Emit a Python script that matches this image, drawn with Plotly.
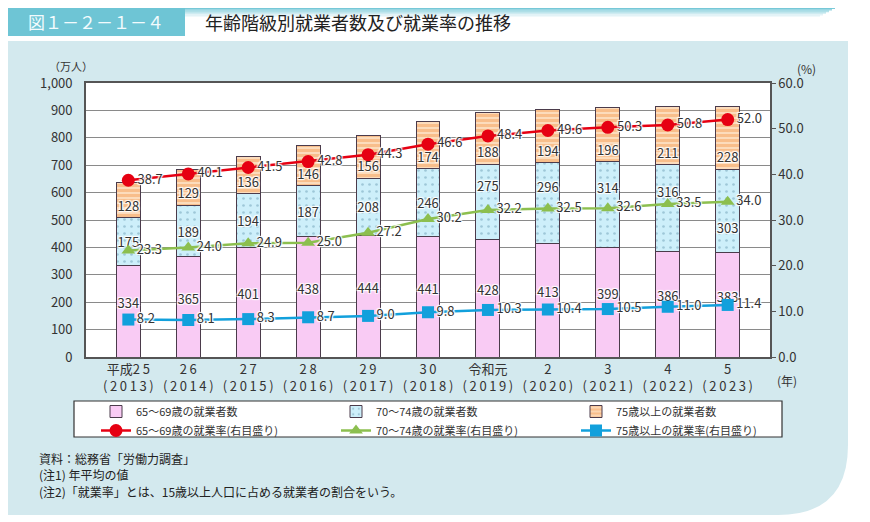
import plotly.graph_objects as go

# --- データ ---
ERA_LABELS = ["平成25", "26", "27", "28", "29", "30", "令和元", "2", "3", "4", "5"]
YEARS = [2013, 2014, 2015, 2016, 2017, 2018, 2019, 2020, 2021, 2022, 2023]

WORKERS_65_69 = [334, 365, 401, 438, 444, 441, 428, 413, 399, 386, 383]
WORKERS_70_74 = [175, 189, 194, 187, 208, 246, 275, 296, 314, 316, 303]
WORKERS_75_UP = [128, 129, 136, 146, 156, 174, 188, 194, 196, 211, 228]

RATE_65_69 = [38.7, 40.1, 41.5, 42.8, 44.3, 46.6, 48.4, 49.6, 50.3, 50.8, 52.0]
RATE_70_74 = [23.3, 24.0, 24.9, 25.0, 27.2, 30.2, 32.2, 32.5, 32.6, 33.5, 34.0]
RATE_75_UP = [8.2, 8.1, 8.3, 8.7, 9.0, 9.8, 10.3, 10.4, 10.5, 11.0, 11.4]

FONT = "Noto Sans CJK JP"
TXT = "#333333"
HALO = "1px 1px 1px white, -1px -1px 1px white, 1px -1px 1px white, -1px 1px 1px white"
THIN = "\u2009"
BLANK = "<br>\u00a0"

# ページの余白(body margin 8px)を考慮した寸法
OFF = 8
W, H = 870 - OFF, 522 - OFF
L, R, T, B = 86 - OFF, 100, 83 - OFF, 165
PW, PH = W - L - R, H - T - B


def px(x):
    # ページ上のピクセル位置 -> paper座標
    return (x - OFF - L) / PW


def py(y):
    return 1 - (y - OFF - T) / PH


def spaced(s):
    # 数字の間を少し空ける（元図の字間に合わせる）
    out = ""
    for i, ch in enumerate(s):
        if i > 0 and ch.isdigit() and s[i - 1].isdigit():
            out += THIN
        out += ch
    return out


cats = [f"{spaced(e)}<br>({THIN}{spaced(str(y))}{THIN})" for e, y in zip(ERA_LABELS, YEARS)]

# 70～74歳の棒ラベルは折れ線と重なるときだけ上下にずらす
labels_70_74 = []
for base, v, r in zip(WORKERS_65_69, WORKERS_70_74, RATE_70_74):
    diff = (base + v / 2) - r * 1000 / 60
    if -20 < diff < 30:
        labels_70_74.append(f"{v}{BLANK}{BLANK}")
    elif -45 < diff <= -20:
        labels_70_74.append(f"\u00a0<br>\u00a0<br>{v}")
    else:
        labels_70_74.append(str(v))

bar_specs = [
    ("65～69歳の就業者数", [f"{v}{BLANK}" for v in WORKERS_65_69], WORKERS_65_69,
     dict(color="#f9cbf4"), "middle"),
    ("70～74歳の就業者数", labels_70_74, WORKERS_70_74,
     dict(color="#cdeffa", pattern=dict(shape=".", fgcolor="#6f9fb5", bgcolor="#cdeffa", size=7, solidity=0.12)),
     "middle"),
    ("75歳以上の就業者数", [str(v) for v in WORKERS_75_UP], WORKERS_75_UP,
     dict(color="#f5a964", pattern=dict(shape="-", fgcolor="#f3a05a", bgcolor="#fcdcbc", size=5, solidity=0.6)),
     "start"),
]

fig = go.Figure()

for name, text, vals, marker, anchor in bar_specs:
    marker["line"] = dict(color="#4b3b4b", width=1)
    fig.add_trace(go.Bar(
        x=cats, y=vals, name=name, marker=marker,
        text=text, textposition="inside", insidetextanchor=anchor,
        constraintext="none", textangle=0,
        textfont=dict(size=13, color=TXT, family=FONT, shadow=HALO),
        width=0.4,
    ))

line_specs = [
    ("65～69歳の就業率(右目盛り)", RATE_65_69, "#e60012", "circle", 13),
    ("70～74歳の就業率(右目盛り)", RATE_70_74, "#8cbf4f", "triangle-up", 12),
    ("75歳以上の就業率(右目盛り)", RATE_75_UP, "#12a0dc", "square", 12),
]
for name, vals, color, symbol, size in line_specs:
    fig.add_trace(go.Scatter(
        x=cats, y=vals, name=name, yaxis="y2", mode="lines+markers+text",
        line=dict(color=color, width=2.5),
        marker=dict(color=color, symbol=symbol, size=size),
        text=[f"{v:.1f}" for v in vals], textposition="middle right",
        textfont=dict(size=13, color=TXT, family=FONT, shadow=HALO),
    ))

# --- 背景・枠など ---
shapes = [
    # 水色のパネル（右下角丸）
    dict(type="path", xref="paper", yref="paper", layer="below",
         path=(f"M {px(7)},{py(41)} L {px(848)},{py(41)} L {px(848)},{py(445)} "
               f"Q {px(848)},{py(515)} {px(778)},{py(515)} L {px(7)},{py(515)} Z"),
         fillcolor="#d3e9ee", line=dict(width=0)),
    # プロット領域（白）
    dict(type="rect", xref="paper", yref="paper", layer="below",
         x0=0, x1=1, y0=0, y1=1, fillcolor="white", line=dict(width=0)),
    # 見出しボックス
    dict(type="rect", xref="paper", yref="paper", layer="below",
         x0=px(7), x1=px(185), y0=py(36), y1=py(8), fillcolor="#6ec5d5", line=dict(width=0)),
    # 凡例の枠
    dict(type="rect", xref="paper", yref="paper", layer="below",
         x0=px(74), x1=px(782), y0=py(437), y1=py(401), fillcolor="white",
         line=dict(color="#333333", width=1.2)),
]
# 見出し上部のグラデーション帯
for i, op in enumerate([0.9, 0.7, 0.5, 0.35, 0.2, 0.1]):
    shapes.append(dict(type="rect", xref="paper", yref="paper", layer="below",
                       x0=px(185), x1=px(835 - i * 3), y0=py(9 + i * 1.6), y1=py(7 + i * 1.6),
                       fillcolor="#6ec5d5", opacity=op, line=dict(width=0)))

annotations = [
    dict(text="図１－２－１－４", x=px(96), y=py(22), xanchor="center", font=dict(size=17, color="#f2fbfd")),
    dict(text="年齢階級別就業者数及び就業率の推移", x=px(203), y=py(22), xanchor="left",
         font=dict(size=18, color="#222222")),
    dict(text="（万人）", x=px(71), y=py(66), xanchor="center", font=dict(size=11, color=TXT)),
    dict(text="(%)", x=px(806), y=py(68), xanchor="center", font=dict(size=12, color=TXT)),
    dict(text="(年)", x=px(787), y=py(381), xanchor="center", font=dict(size=12, color=TXT)),
    dict(text="資料：総務省「労働力調査」", x=px(37), y=py(458), xanchor="left",
         font=dict(size=12, color="#222222")),
    dict(text="(注1) 年平均の値", x=px(37), y=py(474), xanchor="left",
         font=dict(size=12, color="#222222")),
    dict(text="(注2)「就業率」とは、15歳以上人口に占める就業者の割合をいう。", x=px(37), y=py(491),
         xanchor="left", font=dict(size=12, color="#222222")),
]
for a in annotations:
    a.update(xref="paper", yref="paper", yanchor="middle", showarrow=False, font_family=FONT)

fig.update_layout(
    width=W, height=H,
    margin=dict(l=L, r=R, t=T, b=B, autoexpand=False),
    paper_bgcolor="white", plot_bgcolor="rgba(0,0,0,0)",
    font=dict(family=FONT, color=TXT, size=13),
    barmode="stack", bargap=0.6,
    showlegend=True,
    legend=dict(orientation="h", x=px(84), y=py(397), xanchor="left", yanchor="top",
                traceorder="normal", bgcolor="rgba(0,0,0,0)", borderwidth=0,
                entrywidth=183, entrywidthmode="pixels", indentation=12,
                font=dict(size=11, color=TXT, family=FONT)),
    xaxis=dict(showline=True, linecolor="#555555", linewidth=1.5, mirror=True,
               tickfont=dict(size=13, color=TXT), ticks="", tickangle=0, automargin=False),
    yaxis=dict(range=[0, 1000], dtick=100, tickformat=",", showgrid=True,
               gridcolor="#8a8a8a", gridwidth=1, showline=True, linecolor="#555555",
               linewidth=1.5, zeroline=False, ticks="", ticklabelstandoff=0,
               ticksuffix="\u2002\u2009",
               tickfont=dict(size=13, color=TXT), automargin=False),
    yaxis2=dict(range=[0, 60], dtick=10, tickformat=".1f", overlaying="y", side="right",
                showgrid=False, zeroline=False, showline=True, linecolor="#555555",
                linewidth=1.5, ticks="outside", ticklen=4, tickcolor="#555555",
                tickfont=dict(size=13, color=TXT), automargin=False),
    shapes=shapes,
    annotations=annotations,
)

fig.write_html("out.html")
